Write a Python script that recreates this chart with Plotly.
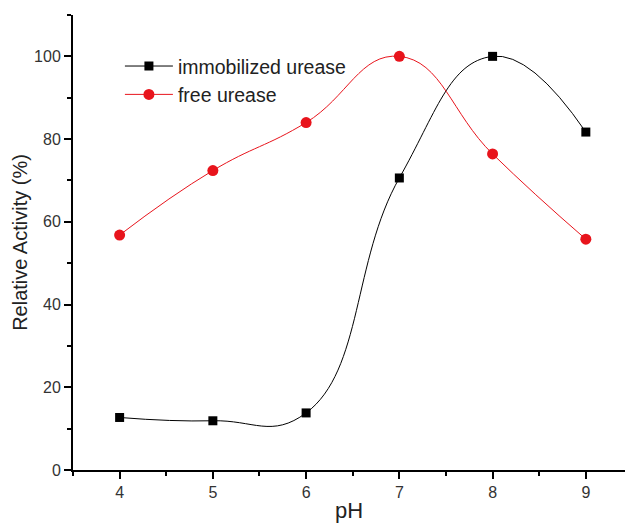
import plotly.graph_objects as go

ph = [4, 5, 6, 7, 8, 9]
immobilized = [12.7, 11.9, 13.8, 70.6, 100.0, 81.7]
free = [56.8, 72.4, 84.0, 100.0, 76.4, 55.8]

fig = go.Figure()
fig.add_trace(go.Scatter(x=ph, y=immobilized, name="immobilized urease",
                         mode="lines+markers", line=dict(color="black", width=1, shape="spline", smoothing=1.3),
                         marker=dict(symbol="square", size=9, color="black")))
fig.add_trace(go.Scatter(x=ph, y=free, name="free urease",
                         mode="lines+markers", line=dict(color="#e8141c", width=1, shape="spline", smoothing=1.3),
                         marker=dict(symbol="circle", size=11, color="#e8141c")))

axis_common = dict(showline=True, linecolor="black", linewidth=2, ticks="outside",
                   tickcolor="black", tickwidth=2, ticklen=7, showgrid=False, zeroline=False,
                   tickfont=dict(family="Liberation Sans, Arial", size=16, color="#333"))
fig.update_layout(
    width=625, height=526,
    margin=dict(l=73, r=0, t=15, b=56),
    plot_bgcolor="white", paper_bgcolor="white",
    xaxis=dict(range=[3.5, 9.42], tickvals=ph, **axis_common,
               minor=dict(dtick=0.5, tick0=0, ticks="outside", ticklen=4, tickwidth=2, tickcolor="black"),
               title=dict(text="pH", font=dict(family="Liberation Sans, Arial", size=22, color="#222"), standoff=2)),
    yaxis=dict(range=[0, 110], tickvals=[0, 20, 40, 60, 80, 100], **axis_common,
               minor=dict(dtick=10, tick0=0, ticks="outside", ticklen=4, tickwidth=2, tickcolor="black"),
               title=dict(text="Relative Activity (%)", font=dict(family="Liberation Sans, Arial", size=20, color="#222"), standoff=1)),
    legend=dict(x=0.085, y=0.93, xanchor="left", yanchor="top", bgcolor="rgba(0,0,0,0)",
                font=dict(family="Liberation Sans, Arial", size=19.5, color="#222"),
                tracegroupgap=0, itemwidth=48),
    showlegend=True,
)
fig.write_html("out.html")
